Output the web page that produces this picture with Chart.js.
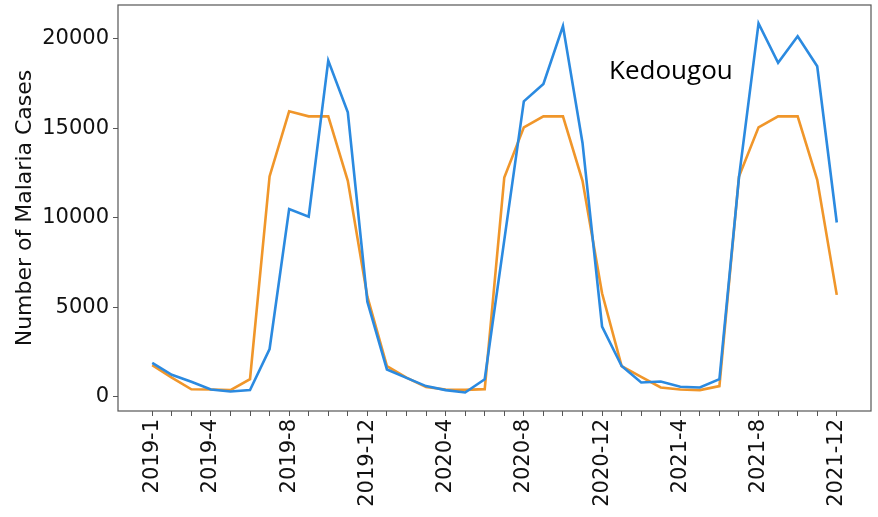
<!DOCTYPE html>
<html>
<head>
<meta charset="utf-8">
<script src="https://cdn.jsdelivr.net/npm/chart.js@4.4.1/dist/chart.umd.min.js"></script>
<style>
html,body{margin:0;padding:0;background:#fff;}
#wrap{width:878px;height:517px;position:relative;}
</style>
</head>
<body>
<div id="wrap"><canvas id="c" width="878" height="517"></canvas></div>
<script>
const months = [
 '2019-1','2019-2','2019-3','2019-4','2019-5','2019-6','2019-7','2019-8','2019-9','2019-10','2019-11','2019-12',
 '2020-1','2020-2','2020-3','2020-4','2020-5','2020-6','2020-7','2020-8','2020-9','2020-10','2020-11','2020-12',
 '2021-1','2021-2','2021-3','2021-4','2021-5','2021-6','2021-7','2021-8','2021-9','2021-10','2021-11','2021-12'
];
const shownLabels = ['2019-1','2019-4','2019-8','2019-12','2020-4','2020-8','2020-12','2021-4','2021-8','2021-12'];
const observed = [
 1900,1230,840,410,300,375,2670,10480,10060,18770,15880,5310,
 1530,1060,600,375,245,980,8750,16495,17465,20690,14170,3915,
 1720,800,860,560,525,990,12250,20840,18640,20130,18450,9730
];
const predicted = [
 1770,1075,420,410,375,990,12300,15935,15655,15655,12060,5590,
 1720,1070,545,410,390,430,12245,15040,15655,15655,12060,5780,
 1720,1120,525,410,375,600,12300,15040,15655,15655,12115,5690
];
const yTicks = [0,5000,10000,15000,20000];
const title = 'Kedougou';

const frame = {
  id:'frame',
  afterDraw(chart){
    const {ctx, chartArea:a} = chart;
    ctx.save();
    ctx.strokeStyle = '#555';
    ctx.lineWidth = 1.2;
    ctx.strokeRect(a.left, a.top, a.right - a.left, a.bottom - a.top);
    ctx.font = '26px "Open Sans"';
    ctx.fillStyle = '#000';
    ctx.textBaseline = 'alphabetic';
    ctx.fillText(title, 609, 79);
    ctx.restore();
  }
};

new Chart(document.getElementById('c'), {
  type:'line',
  data:{
    datasets:[
      {label:'Observed', data: observed.map((v,i)=>({x:i,y:v})), borderColor:'#2b8ae0', borderWidth:2.6, pointRadius:0, tension:0},
      {label:'Predicted', data: predicted.map((v,i)=>({x:i,y:v})), borderColor:'#f0962a', borderWidth:2.6, pointRadius:0, tension:0}
    ]
  },
  options:{
    responsive:false,
    animation:false,
    layout:{padding:{top:5,right:7,left:0,bottom:0}},
    plugins:{legend:{display:false}, tooltip:{enabled:false}},
    scales:{
      x:{
        type:'linear', min:-1.75, max:36.75,
        afterBuildTicks(s){ s.ticks = months.map((m,i)=>({value:i})); },
        afterFit(s){ s.height = 106; s.paddingLeft = 0; s.paddingRight = 0; },
        ticks:{
          autoSkip:false, maxRotation:90, minRotation:90, padding:3,
          color:'#111', font:{family:'DejaVu Sans', size:21},
          callback:(v)=> shownLabels.includes(months[v]) ? months[v] : ''
        },
        grid:{drawOnChartArea:false, drawTicks:true, tickLength:5, color:'#555'},
        border:{display:false}
      },
      y:{
        type:'linear', min:-790, max:21870,
        afterBuildTicks(s){ s.ticks = yTicks.map(v=>({value:v})); },
        afterFit(s){ s.width = 118; s.paddingTop = 0; s.paddingBottom = 0; },
        title:{display:true, text:'Number of Malaria Cases', color:'#111', font:{family:'DejaVu Sans', size:22}, padding:{top:12,bottom:0}},
        ticks:{color:'#111', font:{family:'DejaVu Sans', size:21}, padding:4, callback:(v)=> String(v)},
        grid:{drawOnChartArea:false, drawTicks:true, tickLength:5, color:'#555'},
        border:{display:false}
      }
    }
  },
  plugins:[frame]
});
</script>
</body>
</html>
